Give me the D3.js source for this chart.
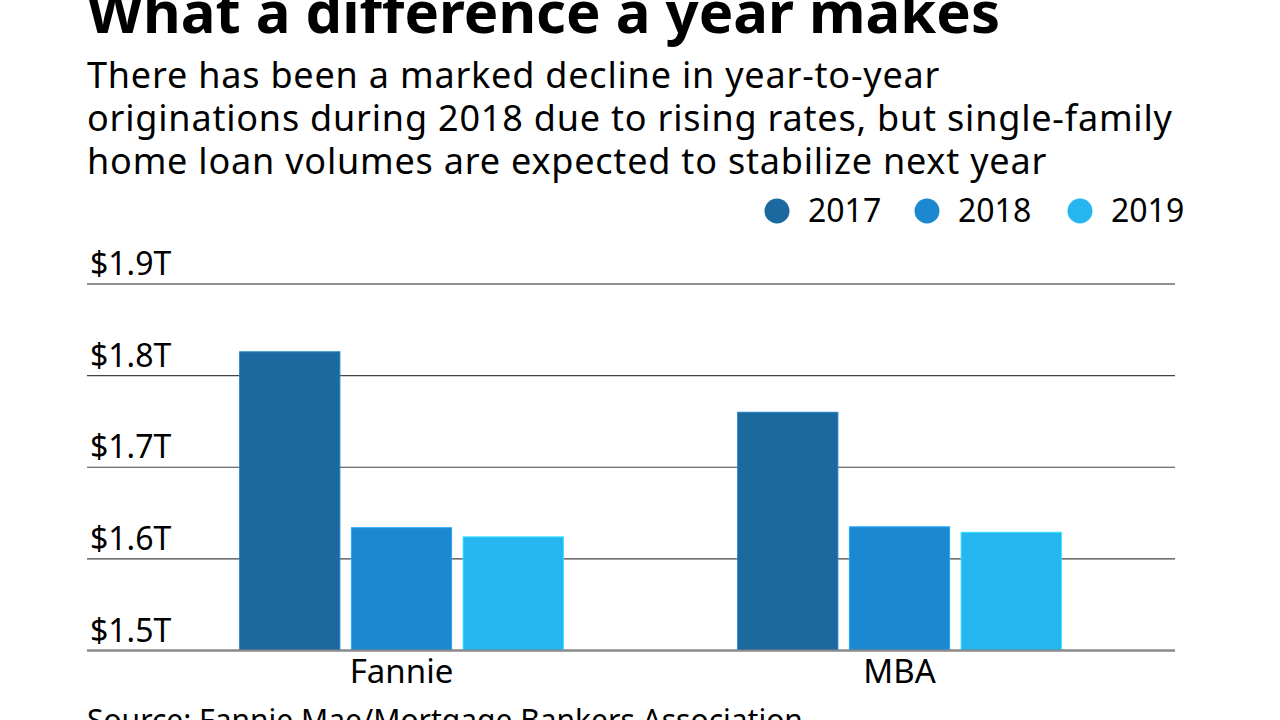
<!DOCTYPE html>
<html>
<head>
<meta charset="utf-8">
<script src="https://cdn.jsdelivr.net/npm/d3@7"></script>
<style>
  html, body { margin: 0; padding: 0; background: #fff; }
  svg { display: block; font-family: "Noto Sans", "Open Sans", sans-serif; }
</style>
</head>
<body>
<svg id="chart" width="1280" height="720"></svg>
<script>
// ---- data ----
const groups = ['Fannie', 'MBA'];
const years = ['2017', '2018', '2019'];
const fannieValues = [1.826, 1.634, 1.624];
const mbaValues = [1.760, 1.635, 1.629];
const yTicks = [1.5, 1.6, 1.7, 1.8, 1.9];
const colors = ['#1b699f', '#1c88d0', '#25b6f0'];

const title = 'What a difference a year makes';
const subtitle = [
  'There has been a marked decline in year-to-year',
  'originations during 2018 due to rising rates, but single-family',
  'home loan volumes are expected to stabilize next year'
];
const source = 'Source: Fannie Mae/Mortgage Bankers Association';

const rows = groups.map((g, i) => ({
  group: g,
  values: years.map((y, j) => ({ year: y, value: (i === 0 ? fannieValues : mbaValues)[j] }))
}));

// ---- layout ----
const svg = d3.select('#chart');
const left = 87, right = 1175;

const x0 = d3.scaleBand().domain(groups).range([152.5, 1148.5])
  .paddingInner(0.35).paddingOuter(0.175);
const x1 = d3.scaleBand().domain(years).range([0, x0.bandwidth()])
  .paddingInner(0.103).paddingOuter(0);
const y = d3.scaleLinear().domain([1.5, 1.9]).range([650.5, 284]);
const color = d3.scaleOrdinal().domain(years).range(colors);

// title + subtitle (title is clipped at the top, like the source image)
svg.append('text')
  .attr('x', left).attr('y', 33)
  .attr('font-size', 58).attr('font-weight', 700).attr('fill', '#000')
  .text(title);

svg.append('g').selectAll('text').data(subtitle).join('text')
  .attr('x', left).attr('y', (d, i) => 88 + i * 43)
  .attr('font-size', 36).attr('letter-spacing', 0.8).attr('fill', '#000')
  .text(d => d);

// legend
const legendX = [777, 927, 1080];
const legend = svg.append('g').selectAll('g').data(years).join('g')
  .attr('transform', (d, i) => `translate(${legendX[i]},211)`);
legend.append('circle').attr('r', 12.5).attr('fill', d => color(d));
legend.append('text').attr('x', 31).attr('y', 11)
  .attr('font-size', 32).attr('fill', '#000').text(d => d);

// gridlines + tick labels
const grid = svg.append('g');
grid.selectAll('line').data(yTicks).join('line')
  .attr('x1', left).attr('x2', right)
  .attr('y1', d => y(d)).attr('y2', d => y(d))
  .attr('stroke', d => d === 1.5 ? '#8a8a8a' : (d === 1.9 ? '#222' : '#444'))
  .attr('stroke-width', d => d === 1.5 ? 2.2 : 1.2);
grid.selectAll('text').data(yTicks).join('text')
  .attr('x', 90).attr('y', d => y(d) - 9)
  .attr('font-size', 32).attr('fill', '#000')
  .text(d => `$${d.toFixed(1)}T`);

// bars
const gBars = svg.append('g').selectAll('g').data(rows).join('g')
  .attr('transform', d => `translate(${x0(d.group)},0)`);
gBars.selectAll('rect').data(d => d.values).join('rect')
  .attr('x', d => x1(d.year))
  .attr('width', x1.bandwidth())
  .attr('y', d => y(d.value))
  .attr('height', d => y(1.5) - y(d.value))
  .attr('fill', d => color(d.year))
  .attr('stroke', d => d3.color(color(d.year)).brighter(0.6))
  .attr('stroke-width', 1);

// redraw baseline on top of bars
svg.append('line')
  .attr('x1', left).attr('x2', right)
  .attr('y1', y(1.5)).attr('y2', y(1.5))
  .attr('stroke', '#8a8a8a').attr('stroke-width', 2.2);

// category labels
svg.append('g').selectAll('text').data(groups).join('text')
  .attr('x', d => x0(d) + x0.bandwidth() / 2)
  .attr('y', 683)
  .attr('text-anchor', 'middle')
  .attr('font-size', 33).attr('fill', '#000')
  .text(d => d);

// source (clipped at the bottom, like the source image)
svg.append('text')
  .attr('x', left).attr('y', 731)
  .attr('font-size', 30).attr('fill', '#000')
  .text(source);
</script>
</body>
</html>
